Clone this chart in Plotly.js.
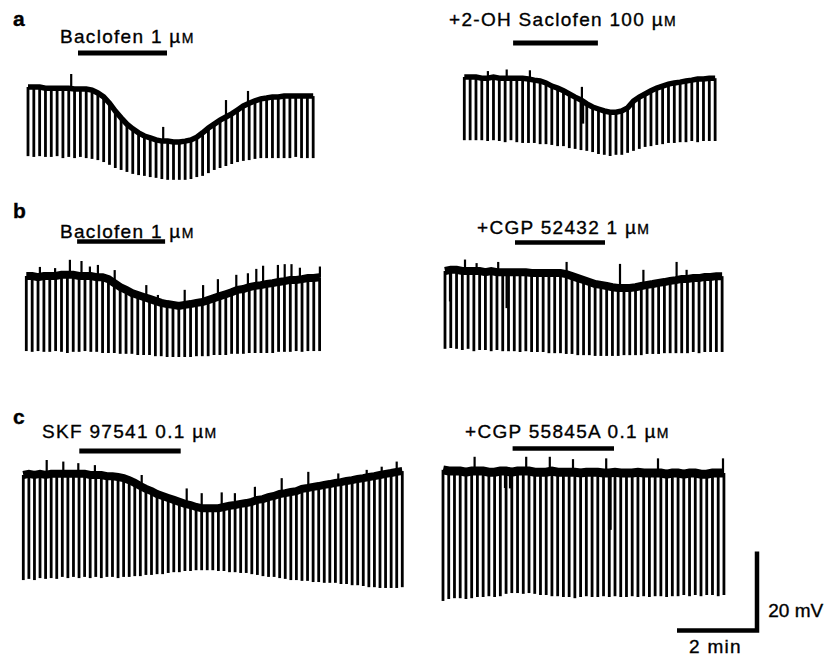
<!DOCTYPE html>
<html><head><meta charset="utf-8">
<script src="https://cdn.plot.ly/plotly-3.0.1.min.js"></script>
<style>
html,body{margin:0;padding:0;background:#fff;}
#chart{width:830px;height:659px;}
.annotation-text{letter-spacing:1.3px;stroke:#000;stroke-width:0.35px;}
.annotation[data-index="9"] .annotation-text{letter-spacing:0px;}
</style></head><body><div id="chart"></div>
<script>
// ---------------- DATA (membrane potential, mV relative to initial rest) ----------------
// Panel a, left: Baclofen 1 µM
const aL_intervalS = 8.73;
const aL_vm = [0,0,0,-0.3,-0.3,-0.3,-0.3,-0.3,-0.5,-0.5,-0.5,-0.8,-1.5,-2.5,-4.1,-6.1,-7.8,-9.4,-10.6,-11.6,-12.4,-12.9,-13.4,-13.7,-13.7,-13.9,-13.9,-13.7,-13.4,-12.7,-11.6,-10.4,-9.4,-8.4,-7.6,-6.8,-5.8,-4.8,-4.1,-3.5,-3.0,-2.8,-2.5,-2.5,-2.3,-2.3,-2.3,-2.3,-2.3,-2.3];
const aL_peak = [-17.5,-17.7,-17.5,-17.7,-17.7,-17.5,-18.0,-17.7,-18.0,-17.7,-18.0,-18.2,-18.5,-19.0,-19.7,-20.5,-21.0,-21.5,-22.0,-22.3,-22.5,-22.8,-23.0,-23.3,-23.5,-23.5,-23.5,-23.5,-23.3,-22.8,-22.5,-21.8,-21.0,-20.5,-20.0,-19.5,-19.0,-18.7,-18.5,-18.2,-18.0,-18.0,-18.0,-18.0,-18.0,-18.0,-17.7,-18.0,-18.0,-18.0];
const aL_artT = [1.08, 3.38, 4.95, 5.5];
const aL_artV = [3.3, -10.1, -3.3, -1.0];
const aL_drug = [1.25, 3.475];

// Panel a, right: +2-OH Saclofen 100 µM
const aR_intervalS = 8.75;
const aR_vm = [0,0,0,-0.3,-0.3,0,-0.3,-0.3,-0.3,-0.3,-0.3,-0.5,-0.8,-1.0,-1.5,-2.3,-2.8,-3.5,-4.3,-5.1,-5.8,-6.8,-7.6,-8.1,-8.6,-8.9,-8.9,-8.6,-7.8,-6.1,-5.1,-4.3,-3.5,-2.8,-2.3,-1.8,-1.5,-1.3,-1.0,-0.8,-0.5,-0.5,-0.3,-0.3];
const aR_peak = [-16.0,-16.0,-16.0,-16.0,-16.2,-16.0,-16.2,-16.5,-16.0,-16.5,-16.7,-16.7,-16.7,-17.0,-17.0,-17.2,-17.5,-17.5,-18.0,-18.2,-18.5,-18.7,-19.0,-19.5,-19.7,-20.0,-19.7,-19.7,-19.2,-18.7,-18.2,-17.7,-17.5,-17.2,-17.0,-16.7,-16.7,-16.5,-16.5,-16.2,-16.5,-16.2,-16.2,-16.2];
const aR_artT = [0.59, 1.06, 1.64, 2.94, 2.97];
const aR_artV = [1.5, 1.9, 1.7, -2.5, -11.8];
const aR_drug = [1.22, 3.34];

// Panel b, left: Baclofen 1 µM
const bL_intervalS = 8.8;
const bL_vm = [0,0,-0.3,0,0,0,0.3,0.3,0.3,0,0,0,-0.3,-0.3,-0.8,-1.8,-2.8,-3.5,-4.3,-4.8,-5.3,-5.8,-6.3,-6.8,-7.1,-7.3,-7.6,-7.3,-7.1,-6.8,-6.6,-6.1,-5.6,-5.1,-4.6,-4.1,-3.5,-3.3,-2.8,-2.5,-2.3,-2.0,-1.8,-1.5,-1.3,-1.0,-1.0,-0.8,-0.5,-0.5,-0.3];
const bL_peak = [-19.0,-19.2,-19.0,-19.2,-19.2,-19.0,-19.2,-19.5,-19.2,-19.2,-19.0,-19.2,-19.2,-19.5,-19.5,-19.5,-19.7,-19.7,-19.7,-20.0,-20.0,-20.0,-20.3,-20.3,-20.5,-20.5,-20.5,-20.5,-20.5,-20.3,-20.3,-20.3,-20.0,-20.0,-20.0,-19.7,-19.7,-19.7,-19.5,-19.5,-19.5,-19.5,-19.5,-19.2,-19.2,-19.2,-19.0,-19.2,-19.0,-19.0,-19.0];
const bL_artT = [0.34,0.72,1.09,1.38,1.59,1.79,2.21,3.0,3.29,3.96,4.42,4.79,5.25,5.54,5.75,5.92,6.29,6.46,6.63,6.84,7.34];
const bL_artV = [2.3,2.0,4.1,3.8,2.4,2.8,1.5,-2.3,-4.8,-3.5,-2.3,-0.8,0.3,0.7,1.8,2.6,2.8,3.0,3.0,2.1,2.4];
const bL_drug = [1.27, 3.47];

// Panel b, right: +CGP 52432 1 µM
const bR_intervalS = 8.66;
const bR_vm = [0,0.3,0.3,0,0,0,0,-0.3,0,-0.3,-0.3,-0.3,-0.3,-0.3,-0.3,-0.5,-0.5,-0.5,-0.5,-0.5,-0.5,-0.8,-1.3,-1.8,-2.3,-2.8,-3.3,-3.5,-3.8,-4.1,-4.3,-4.3,-4.3,-4.1,-3.8,-3.5,-3.3,-3.0,-2.8,-2.5,-2.3,-2.0,-2.0,-1.8,-1.8,-1.5,-1.5,-1.3,-1.3];
const bR_peak = [-19.7,-19.5,-19.7,-20.0,-19.7,-20.3,-20.0,-20.0,-20.3,-20.0,-20.3,-20.3,-20.3,-20.5,-20.3,-20.5,-20.5,-20.5,-20.8,-20.8,-20.8,-21.0,-21.0,-21.3,-21.3,-21.3,-21.5,-21.5,-21.5,-21.5,-21.5,-21.3,-21.3,-21.3,-21.3,-21.0,-21.0,-21.0,-20.8,-20.8,-20.8,-20.8,-20.8,-20.5,-20.8,-20.5,-20.5,-20.5,-20.5];
const bR_artT = [0.125,0.5,0.79,1.33,1.54,3.04,4.375,4.96,5.79,6.04];
const bR_artV = [-7.7,2.9,2.0,2.3,-9.4,2.3,1.8,0.3,2.3,0.3];
const bR_drug = [1.75, 4.0];

// Panel c, left: SKF 97541 0.1 µM
const cL_intervalS = 8.36;
const cL_vm = [0,0.3,0,0.3,0,0.3,0.3,0.3,0.3,0.3,0.3,0.3,0,0,0,-0.3,-0.3,-0.5,-0.8,-1.3,-2.0,-2.8,-3.5,-4.1,-4.8,-5.3,-5.8,-6.3,-6.8,-7.3,-7.6,-8.1,-8.4,-8.4,-8.4,-8.4,-8.1,-7.8,-7.6,-7.3,-7.1,-6.8,-6.3,-6.1,-5.6,-5.3,-4.8,-4.6,-4.3,-4.1,-3.5,-3.3,-3.0,-2.8,-2.5,-2.3,-2.0,-1.8,-1.5,-1.3,-1.0,-0.8,-0.5,-0.3,0,0.3,0.5,0.8,1.0];
const cL_peak = [-26.6,-26.3,-26.6,-26.1,-26.3,-26.1,-26.3,-25.8,-26.1,-25.8,-26.1,-25.8,-26.1,-25.8,-26.1,-25.8,-25.8,-26.1,-25.8,-25.8,-25.6,-25.6,-25.3,-25.3,-25.1,-25.1,-24.8,-24.6,-24.6,-24.3,-24.3,-24.1,-24.1,-24.1,-24.1,-24.3,-24.3,-24.6,-24.6,-24.8,-24.8,-25.1,-25.3,-25.6,-25.8,-25.8,-26.1,-26.3,-26.6,-26.6,-26.8,-26.8,-27.1,-27.1,-27.3,-27.3,-27.3,-27.6,-27.6,-27.9,-27.9,-28.1,-28.4,-28.4,-28.6,-28.6,-28.6,-28.6,-28.4];
const cL_artT = [0.585,1.0,1.375,1.79,2.96,4.085,4.46,4.96,5.29,5.79,6.46,7.125,7.875,8.585,8.96,9.335];
const cL_artV = [3.8,3.4,3.0,2.5,0,-3.4,-4.6,-4.4,-4.6,-3.0,-0.8,0.8,0.4,1.3,2.1,3.4];
const cL_drug = [1.4, 3.935];

// Panel c, right: +CGP 55845A 0.1 µM
const cR_intervalS = 8.6;
const cR_vm = [0.3,0,0,0,-0.3,0,0,0,-0.3,-0.3,0,0,-0.3,0,0,0,-0.3,-0.3,-0.3,0,-0.3,-0.3,-0.3,-0.3,-0.5,-0.3,-0.3,-0.3,-0.5,-0.5,-0.3,-0.5,-0.5,-0.5,-0.3,-0.5,-0.5,-0.5,-0.5,-0.8,-0.5,-0.5,-0.8,-0.5,-0.5,-0.8,-0.8,-0.5,-0.5,-0.5];
const cR_peak = [-32.9,-32.4,-32.2,-32.2,-32.4,-32.2,-31.9,-31.9,-31.7,-31.9,-31.7,-31.1,-30.9,-30.9,-31.1,-30.9,-31.1,-31.4,-31.4,-31.7,-31.7,-31.9,-31.9,-32.2,-31.9,-31.7,-31.9,-31.9,-31.7,-31.9,-31.7,-31.9,-31.9,-31.7,-31.9,-31.7,-31.9,-31.7,-31.7,-31.9,-31.7,-31.7,-31.4,-31.7,-31.4,-31.7,-31.4,-31.4,-31.7,-31.4];
const cR_artT = [0.79,1.55,1.675,2.08,2.67,3.25,4.08,4.15,4.19,5.375,7.0];
const cR_artV = [3.6,-4.3,-4.4,3.6,3.6,3.0,3.2,-14.9,-14.9,3.2,3.2];
const cR_drug = [1.74, 4.275];

// Calibration bar: 2 min, 20 mV
const scaleT = [0, 2, 2];
const scaleV = [0, 0, 20];

// Texts
const panelLetters = ['a', 'b', 'c'];
const drugLabels = ['Baclofen 1 µM', '+2-OH Saclofen 100 µM', 'Baclofen 1 µM', '+CGP 52432 1 µM', 'SKF 97541 0.1 µM', '+CGP 55845A 0.1 µM'];
const scaleLabels = ['20 mV', '2 min'];

// ---------------- LAYOUT / STYLE ----------------
const W = 830, H = 659;
const PX_PER_MIN = 40, PX_PER_MV = 3.95;
const INK = '#000';

const panels = [
  {vm: aL_vm, peak: aL_peak, iv: aL_intervalS, artT: aL_artT, artV: aL_artV, drug: aL_drug},
  {vm: aR_vm, peak: aR_peak, iv: aR_intervalS, artT: aR_artT, artV: aR_artV, drug: aR_drug},
  {vm: bL_vm, peak: bL_peak, iv: bL_intervalS, artT: bL_artT, artV: bL_artV, drug: bL_drug},
  {vm: bR_vm, peak: bR_peak, iv: bR_intervalS, artT: bR_artT, artV: bR_artV, drug: bR_drug},
  {vm: cL_vm, peak: cL_peak, iv: cL_intervalS, artT: cL_artT, artV: cL_artV, drug: cL_drug},
  {vm: cR_vm, peak: cR_peak, iv: cR_intervalS, artT: cR_artT, artV: cR_artV, drug: cR_drug}
];
// pixel boxes, origin pixel (t=0, 0 mV), baseline width, drug-bar pixel y / width
const geom = [
  {l:8,  r:330, t:58,  b:195, x0:28,    y0:87,  baseW:5.5, barY:53,    barW:5},
  {l:440,r:735, t:55,  b:170, x0:464.3, y0:77,  baseW:5.5, barY:43,    barW:5},
  {l:8,  r:335, t:248, b:372, x0:26.3,  y0:276, baseW:8,   barY:241.5, barW:4.5},
  {l:435,r:735, t:248, b:372, x0:445,   y0:271, baseW:8,   barY:242.5, barW:4.5},
  {l:8,  r:420, t:452, b:605, x0:23.3,  y0:475, baseW:8,   barY:451,   barW:5},
  {l:435,r:740, t:445, b:612, x0:443,   y0:471, baseW:9,   barY:448.5, barW:4.5},
  {l:650,r:790, t:540, b:650, x0:677,   y0:630.5}
];

const layout = {
  width: W, height: H, autosize: false,
  margin: {l:0, r:0, t:0, b:0, pad:0},
  paper_bgcolor: '#ffffff', plot_bgcolor: 'rgba(0,0,0,0)',
  showlegend: false, shapes: [], annotations: []
};
const traces = [];

geom.forEach((g, k) => {
  const sfx = k === 0 ? '' : String(k + 1);
  layout['xaxis' + sfx] = {
    domain: [g.l / W, g.r / W],
    range: [(g.l - g.x0) / PX_PER_MIN, (g.r - g.x0) / PX_PER_MIN],
    visible: false, fixedrange: true, anchor: 'y' + sfx
  };
  layout['yaxis' + sfx] = {
    domain: [1 - g.b / H, 1 - g.t / H],
    range: [(g.y0 - g.b) / PX_PER_MV, (g.y0 - g.t) / PX_PER_MV],
    visible: false, fixedrange: true, anchor: 'x' + sfx
  };
});

panels.forEach((p, k) => {
  const g = geom[k];
  const sfx = k === 0 ? '' : String(k + 1);
  const xa = 'x' + sfx, ya = 'y' + sfx;
  const t = p.vm.map((_, i) => i * p.iv / 60);
  // pulses (hyperpolarizing electrotonic potentials)
  const px = [], py = [];
  p.vm.forEach((v, i) => { px.push(t[i], t[i], null); py.push(v, p.peak[i], null); });
  traces.push({type:'scatter', mode:'lines', x:px, y:py, xaxis:xa, yaxis:ya,
    line:{color:INK, width:2.8}, hoverinfo:'skip'});
  // membrane potential trace
  traces.push({type:'scatter', mode:'lines', x:t, y:p.vm, xaxis:xa, yaxis:ya,
    line:{color:INK, width:g.baseW, simplify:false}, hoverinfo:'skip'});
  // spontaneous deflections / noise spikes
  const sx = [], sy = [];
  p.artT.forEach((T, j) => {
    const i = Math.min(p.vm.length - 1, Math.max(0, Math.round(T * 60 / p.iv)));
    sx.push(T, T, null); sy.push(p.vm[i], p.artV[j], null);
  });
  traces.push({type:'scatter', mode:'lines', x:sx, y:sy, xaxis:xa, yaxis:ya,
    line:{color:INK, width:2.2}, hoverinfo:'skip'});
  // drug application bar
  layout.shapes.push({type:'line', xref:xa, yref:'paper',
    x0:p.drug[0], x1:p.drug[1], y0:1 - g.barY / H, y1:1 - g.barY / H,
    line:{color:INK, width:g.barW}});
});

// calibration bar
traces.push({type:'scatter', mode:'lines', x:scaleT, y:scaleV, xaxis:'x7', yaxis:'y7',
  line:{color:INK, width:4.5}, hoverinfo:'skip'});

// annotations
const FONT = 'Liberation Sans, Arial, Helvetica, sans-serif';
const letterPos = [[10.5, 18.5], [10.5, 210], [10.5, 416]];
panelLetters.forEach((s, i) => {
  layout.annotations.push({text:'<b>' + s + '</b>', xref:'paper', yref:'paper',
    x:letterPos[i][0] / W, y:1 - letterPos[i][1] / H, xanchor:'left', yanchor:'middle',
    showarrow:false, font:{family:FONT, size:21, color:INK}});
});
const labelPos = [[58.3, 36], [446.7, 20], [58, 231.7], [475, 227.5], [40, 431.7], [463.3, 431.7]];
drugLabels.forEach((s, i) => {
  const txt = s.replace('µM', 'µ<span style="font-size:14px">M</span>');
  layout.annotations.push({text:txt, xref:'paper', yref:'paper',
    x:labelPos[i][0] / W, y:1 - labelPos[i][1] / H, xanchor:'left', yanchor:'middle',
    showarrow:false, font:{family:FONT, size:19, color:INK}});
});
// "20 mV" centred on its cap line; "2 min" sits on the bottom edge
layout.annotations.push({text:scaleLabels[0], xref:'paper', yref:'paper',
  x:763.3 / W, y:1 - 610 / H, xanchor:'left', yanchor:'middle',
  showarrow:false, font:{family:FONT, size:19, color:INK}});
layout.annotations.push({text:scaleLabels[1], xref:'paper', yref:'paper',
  x:686.7 / W, y:0, xanchor:'left', yanchor:'bottom',
  showarrow:false, font:{family:FONT, size:19, color:INK}});

Plotly.newPlot('chart', traces, layout, {staticPlot:true, displayModeBar:false});
</script></body></html>
